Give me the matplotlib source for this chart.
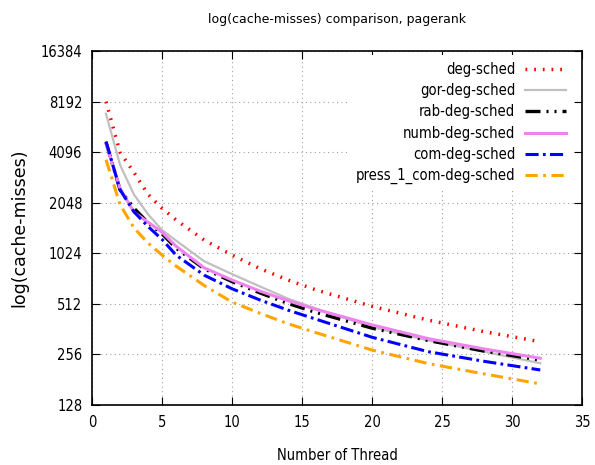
import matplotlib
matplotlib.use("Agg")
import matplotlib.pyplot as plt

# thread counts where values were read
threads = [1, 2, 3, 4, 5, 6, 8, 10, 12, 14, 16, 20, 24, 28, 32]

deg_sched = [8200, 4100, 3100, 2300, 1900, 1620, 1230, 1000, 830, 710, 620, 495, 410, 350, 305]
gor_deg_sched = [6950, 3450, 2290, 1750, 1410, 1220, 920, 770, 650, 550, 480, 372, 310, 266, 227]
rab_deg_sched = [4700, 2450, 1900, 1560, 1340, 1100, 830, 695, 595, 515, 455, 367, 310, 268, 237]
numb_deg_sched = [4600, 2500, 1800, 1570, 1370, 1130, 840, 710, 610, 535, 475, 384, 318, 276, 243]
com_deg_sched = [4750, 2450, 1810, 1480, 1240, 1000, 760, 630, 540, 470, 415, 324, 266, 233, 207]
press_1_com_deg_sched = [3700, 2000, 1450, 1180, 1000, 860, 660, 525, 450, 390, 345, 272, 226, 196, 171]

y_ticks = [128, 256, 512, 1024, 2048, 4096, 8192, 16384]
x_ticks = [0, 5, 10, 15, 20, 25, 30, 35]

plt.rcParams['font.family'] = ['DejaVu Sans']
plt.rcParams['font.stretch'] = 'condensed'

fig = plt.figure(figsize=(5.95, 4.65), dpi=100)
ax = fig.add_axes([0.1546, 0.129, 0.824, 0.761])

ax.plot(threads, deg_sched, color='#ff0000', lw=2.5,
        linestyle=(0, (0.5, 2.0)), label='deg-sched')
ax.plot(threads, gor_deg_sched, color='#c0c0c0', lw=1.6,
        label='gor-deg-sched')
ax.plot(threads, rab_deg_sched, color='black', lw=2.4,
        linestyle=(0, (4.5, 1.8, 0.6, 1.8, 0.6, 1.8)), label='rab-deg-sched')
ax.plot(threads, numb_deg_sched, color='#ee82ee', lw=2.2,
        label='numb-deg-sched')
ax.plot(threads, com_deg_sched, color='#0000ff', lw=2.2,
        linestyle=(0, (4.3, 1.4, 0.9, 1.4)), label='com-deg-sched')
ax.plot(threads, press_1_com_deg_sched, color='#ffa500', lw=2.2,
        linestyle=(0, (4.0, 1.8, 0.9, 1.8)), label='press_1_com-deg-sched')

ax.set_yscale('log', base=2)
ax.set_xlim(0, 35)
ax.set_ylim(128, 16384)
ax.set_xticks(x_ticks)
ax.set_xticklabels([str(v) for v in x_ticks])
ax.set_yticks(y_ticks)
ax.set_yticklabels([str(v) for v in y_ticks])
ax.minorticks_off()
ax.tick_params(direction='in', top=True, right=True, length=6,
               labelsize=10.5, pad=7)
ax.grid(True, color='#a0a0a0', linestyle=(0, (1, 3)), lw=0.8)
for sp in ax.spines.values():
    sp.set_linewidth(1.2)

ax.set_title('log(cache-misses) comparison, pagerank', fontsize=9,
             fontstretch='normal', pad=20)
ax.set_xlabel('Number of Thread', fontsize=10.5, labelpad=13)
ax.set_ylabel('log(cache-misses)', fontsize=12.5, fontstretch='normal',
              labelpad=9)

leg = ax.legend(loc='upper right', bbox_to_anchor=(1.0, 1.014),
                frameon=True, facecolor='white', edgecolor='none',
                framealpha=1.0, fancybox=False, markerfirst=False,
                fontsize=10.5, handlelength=2.8, labelspacing=0.42,
                borderpad=0.5, borderaxespad=0.6, handletextpad=0.7)

fig.savefig('out.png', dpi=100)
